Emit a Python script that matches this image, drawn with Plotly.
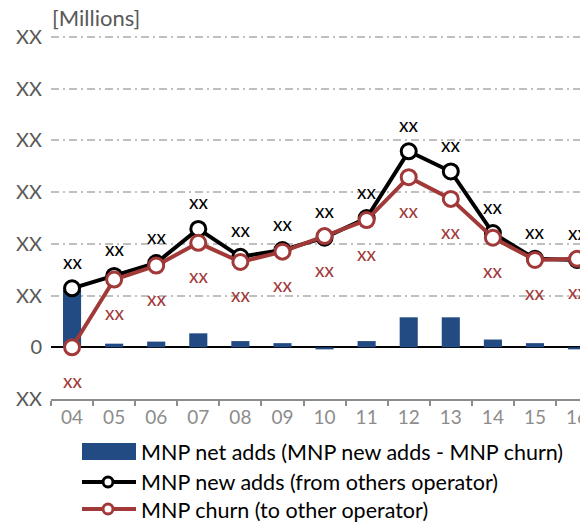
import plotly.graph_objects as go

categories = ["04", "05", "06", "07", "08", "09", "10", "11", "12", "13", "14", "15", "16"]
net_adds = [1.12, 0.07, 0.11, 0.27, 0.12, 0.08, -0.04, 0.12, 0.58, 0.58, 0.15, 0.08, -0.04]
new_adds = [1.14, 1.38, 1.63, 2.29, 1.75, 1.88, 2.12, 2.50, 3.79, 3.40, 2.21, 1.71, 1.69]
churn = [0.0, 1.31, 1.58, 2.02, 1.65, 1.85, 2.15, 2.46, 3.29, 2.87, 2.12, 1.69, 1.71]
y_tickvals = [-1, 0, 1, 2, 3, 4, 5, 6]
y_ticktext = ["XX", "0", "XX", "XX", "XX", "XX", "XX", "XX"]
label_text = "xx"
legend_names = ["MNP net adds (MNP new adds - MNP churn)",
                "MNP new adds (from others operator)",
                "MNP churn (to other operator)"]

BLUE = "#214B82"
BLACK = "#000000"
RED = "#A23939"
FONT = "Lato"

W, H = 580, 522
L, R, T, B = 51, 0, 36, 123
PW, PH = W - L - R, H - T - B

def px(x):
    return (x - L) / PW

def py(y):
    return (H - B - y) / PH

fig = go.Figure()
fig.add_trace(go.Bar(x=categories, y=net_adds, marker=dict(color=BLUE, line=dict(width=0)),
                     width=0.43, name=legend_names[0], showlegend=False))
fig.add_trace(go.Scatter(x=categories, y=new_adds, mode="lines+markers", name=legend_names[1],
                         line=dict(color=BLACK, width=4),
                         marker=dict(size=15, color="white", line=dict(color=BLACK, width=3)),
                         cliponaxis=False, showlegend=False))
fig.add_trace(go.Scatter(x=categories, y=churn, mode="lines+markers", name=legend_names[2],
                         line=dict(color=RED, width=4),
                         marker=dict(size=15, color="white", line=dict(color=RED, width=3)),
                         cliponaxis=False, showlegend=False))

annotations = []
for i, v in enumerate(new_adds):
    annotations.append(dict(x=i, y=v, xref="x", yref="y", text=label_text, showarrow=False,
                            yshift=27, font=dict(family=FONT, size=19, color=BLACK)))
for i, v in enumerate(churn):
    annotations.append(dict(x=i, y=v, xref="x", yref="y", text=label_text, showarrow=False,
                            yshift=-33, font=dict(family=FONT, size=19, color=RED)))

annotations.append(dict(x=px(50), y=py(17), xref="paper", yref="paper", text="[Millions]",
                        showarrow=False, xanchor="left", yanchor="middle",
                        font=dict(family=FONT, size=22, color="#595959")))

# manual legend
shapes = []
shapes.append(dict(type="rect", xref="paper", yref="paper", x0=px(82), x1=px(136), y0=py(443), y1=py(460),
                   fillcolor=BLUE, line=dict(width=0)))
for yy, col in [(482, BLACK), (509, RED)]:
    shapes.append(dict(type="line", xref="paper", yref="paper", x0=px(82), x1=px(136), y0=py(yy), y1=py(yy),
                       line=dict(color=col, width=4)))
    shapes.append(dict(type="circle", xref="paper", yref="paper", x0=px(103), x1=px(113),
                       y0=py(yy - 5), y1=py(yy + 5), fillcolor="white", line=dict(color=col, width=3)))
for yy, name in zip([452, 482, 510], legend_names):
    annotations.append(dict(x=px(139), y=py(yy), xref="paper", yref="paper", text=name, showarrow=False,
                            xanchor="left", yanchor="middle",
                            font=dict(family=FONT, size=21.5, color="#000000")))

fig.update_layout(
    width=W, height=H,
    margin=dict(l=L, r=R, t=T, b=B, pad=0, autoexpand=False),
    plot_bgcolor="white", paper_bgcolor="white",
    showlegend=False,
    annotations=annotations,
    shapes=shapes,
    font=dict(family=FONT),
    xaxis=dict(type="category", range=[-0.5, 12.07], autorange=False, automargin=False,
               showgrid=False, showline=True,
               linecolor="#8C8C8C", linewidth=1.5, ticks="outside", tickson="boundaries",
               ticklen=5, tickcolor="#8C8C8C", tickwidth=1.5,
               tickfont=dict(family=FONT, size=19, color="#8C8C8C")),
    yaxis=dict(range=[-1, 6.02], autorange=False, automargin=False,
               tickvals=y_tickvals, ticktext=y_ticktext, showgrid=True,
               gridcolor="#BFBFBF", gridwidth=1.5, griddash="8px,4px,2px,4px",
               zeroline=True, zerolinecolor="#000000", zerolinewidth=2, showline=False,
               ticks="", ticklabelstandoff=8,
               tickfont=dict(family=FONT, size=20, color="#595959")),
)

fig.write_html("out.html", config={"displayModeBar": False},
               post_script="document.body.style.margin='0';document.body.style.overflow='hidden';")
